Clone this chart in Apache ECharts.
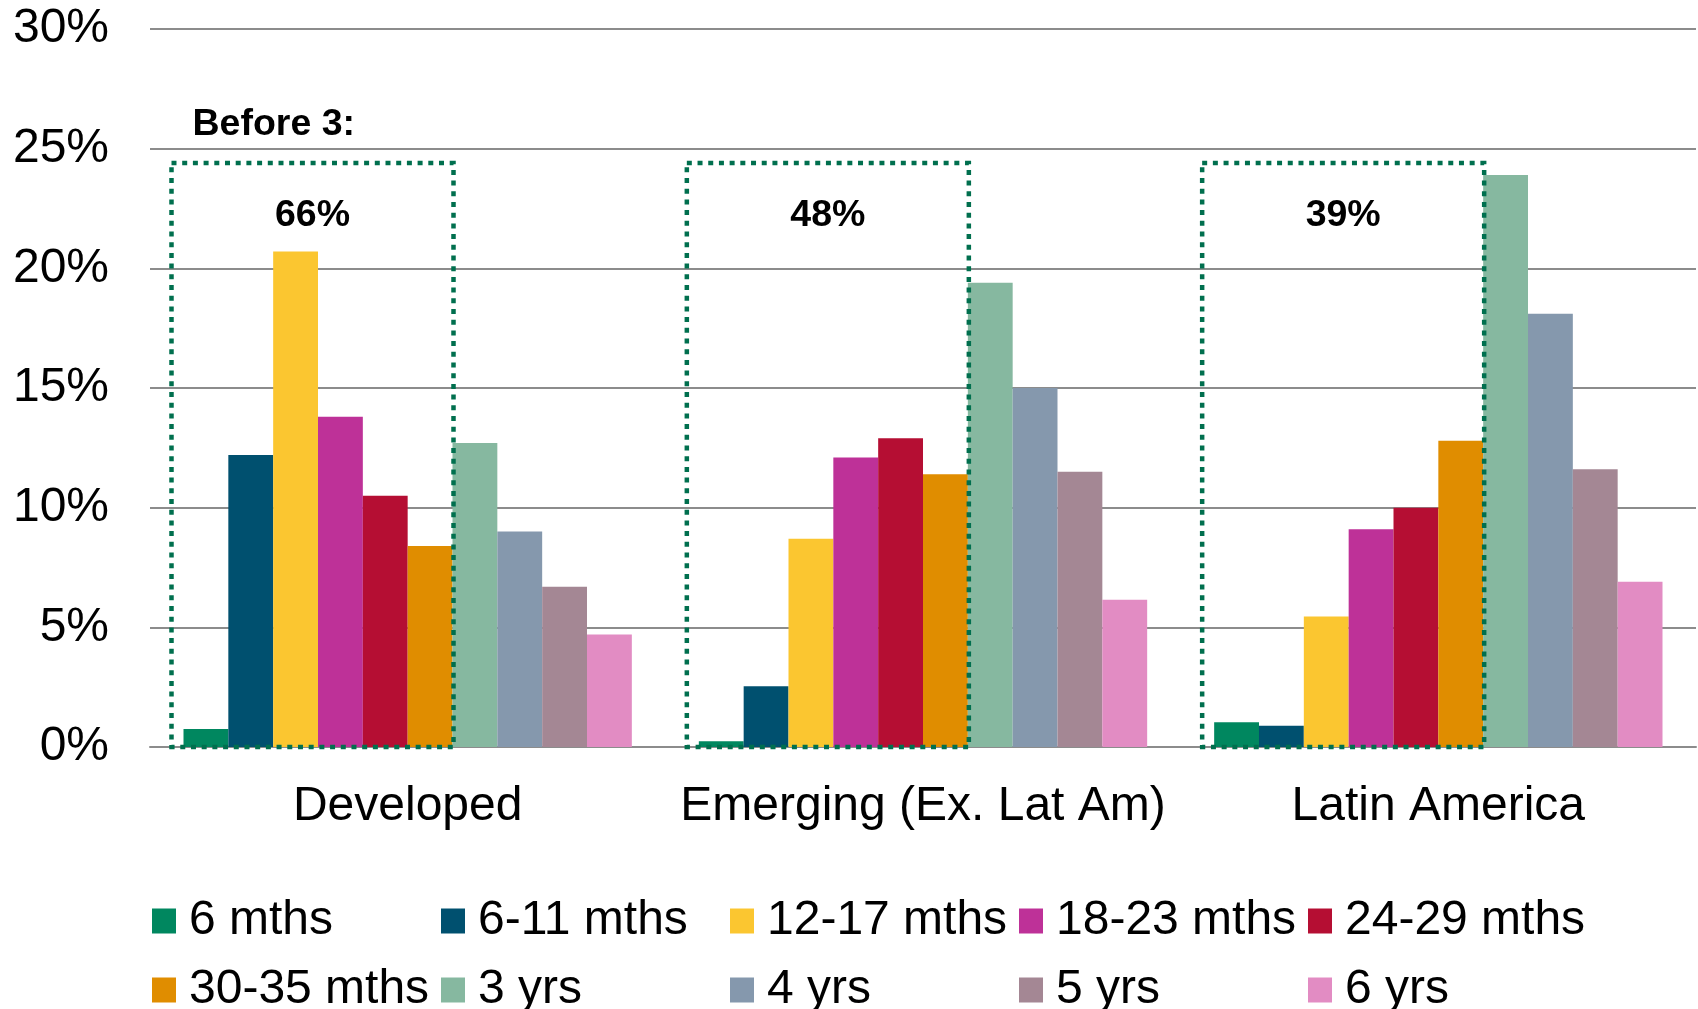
<!DOCTYPE html>
<html>
<head>
<meta charset="utf-8">
<script src="https://cdn.jsdelivr.net/npm/echarts@6/dist/echarts.min.js"></script>
<style>
  html, body { margin: 0; padding: 0; background: #fff; }
  #chart { width: 1698px; height: 1009px; }
</style>
</head>
<body>
<div id="chart"></div>
<script>
// Regions on the category axis
const categories = ['Developed', 'Emerging (Ex. Lat Am)', 'Latin America'];

// Age buckets (one bar series each) and their colours
const seriesNames = ['6 mths', '6-11 mths', '12-17 mths', '18-23 mths', '24-29 mths',
                     '30-35 mths', '3 yrs', '4 yrs', '5 yrs', '6 yrs'];
const seriesColors = ['#00875F', '#00506F', '#FBC630', '#BE3198', '#B50E33',
                      '#E08D00', '#86B8A0', '#8598AD', '#A48794', '#E28CC3'];

// Share of total (%) per region: Developed, Emerging, Latin America
const m6     = [0.75, 0.24, 1.03];
const m6_11  = [12.2, 2.54, 0.89];
const m12_17 = [20.7, 8.7, 5.45];
const m18_23 = [13.8, 12.1, 9.1];
const m24_29 = [10.5, 12.9, 10.0];
const m30_35 = [8.4, 11.4, 12.8];
const y3     = [12.7, 19.4, 23.9];
const y4     = [9.0, 15.0, 18.1];
const y5     = [6.7, 11.5, 11.6];
const y6     = [4.7, 6.15, 6.9];
const seriesValues = [m6, m6_11, m12_17, m18_23, m24_29, m30_35, y3, y4, y5, y6];

// Value axis ticks
const yMin = 0, yMax = 30, yStep = 5;

// The "Before 3" bracket covers the first six buckets
const before3Count = 6;
const before3Title = 'Before 3:';
const before3Share = categories.map((c, i) =>
  Math.round(seriesValues.slice(0, before3Count).reduce((s, arr) => s + arr[i], 0)));

const FONT = '"Liberation Sans", Arial, sans-serif';
const BAR_CAT_GAP = 0.13;
const BOX_TOP = 24.4;      // value level of the bracket's top edge
const SHARE_LEVEL = 22.2;  // value level of the share label
const TITLE_LEVEL = 26.0;  // value level of "Before 3:"

const barSeries = seriesNames.map((name, k) => ({
  name: name,
  type: 'bar',
  data: seriesValues[k],
  barGap: 0,
  barCategoryGap: (BAR_CAT_GAP * 100) + '%',
  itemStyle: { color: seriesColors[k] },
  emphasis: { disabled: true },
  z: 2
}));

// Dotted bracket and share label drawn on the same scales as the bars
const bracketSeries = {
  name: 'before3',
  type: 'custom',
  z: 10,
  silent: true,
  data: categories.map((c, i) => [i, BOX_TOP]),
  encode: { x: 0, y: 1 },
  renderItem: function (params, api) {
    const idx = api.value(0);
    const base = api.coord([idx, 0]);
    const band = api.size([1, 0])[0];
    const groupW = band * (1 - BAR_CAT_GAP);
    const barW = groupW / seriesNames.length;
    const groupLeft = base[0] - groupW / 2;
    const left = groupLeft - 12;
    const right = groupLeft + before3Count * barW + 1;
    const top = api.coord([idx, BOX_TOP])[1];
    const bottom = base[1];
    const children = [{
      type: 'rect',
      shape: { x: left, y: top, width: right - left, height: bottom - top },
      style: { fill: null, stroke: '#006F4E', lineWidth: 4.5, lineDash: [5, 5.7] }
    }, {
      type: 'text',
      style: {
        text: before3Share[idx] + '%',
        x: (left + right) / 2,
        y: api.coord([idx, SHARE_LEVEL])[1],
        align: 'center', verticalAlign: 'middle',
        font: 'bold 37.5px ' + FONT, fill: '#000'
      }
    }];
    if (idx === 0) {
      children.push({
        type: 'text',
        style: {
          text: before3Title,
          x: left + 21,
          y: api.coord([idx, TITLE_LEVEL])[1],
          align: 'left', verticalAlign: 'middle',
          font: 'bold 37.5px ' + FONT, fill: '#000'
        }
      });
    }
    return { type: 'group', children: children };
  }
};

// Legend grid: five columns, two rows (one legend component per entry)
const legendColumnsX = [152, 441, 730, 1019, 1308];
const legendRowsTop = [897, 966];
const legends = seriesNames.map((name, k) => ({
  left: legendColumnsX[k % 5],
  top: legendRowsTop[Math.floor(k / 5)],
  itemWidth: 24,
  itemHeight: 25,
  padding: 0,
  icon: 'rect',
  selectedMode: false,
  data: [name],
  textStyle: { fontFamily: FONT, fontSize: 48, lineHeight: 40, color: '#000',
               padding: [0, 0, 0, 8] }
}));

const chart = echarts.init(document.getElementById('chart'), null, { renderer: 'canvas' });
chart.setOption({
  animation: false,
  backgroundColor: '#fff',
  grid: { left: 150, right: 2, top: 29, bottom: 262, containLabel: false },
  legend: legends,
  xAxis: {
    type: 'category',
    data: categories,
    axisTick: { show: false },
    axisLine: { show: true, lineStyle: { color: '#8c8c8c', width: 2 } },
    axisLabel: { fontFamily: FONT, fontSize: 48, color: '#000', margin: 36, interval: 0 }
  },
  yAxis: {
    type: 'value',
    min: yMin, max: yMax, interval: yStep,
    axisLine: { show: false },
    axisTick: { show: false },
    splitLine: { lineStyle: { color: '#8c8c8c', width: 2 } },
    axisLabel: { fontFamily: FONT, fontSize: 48, color: '#000', margin: 41,
                 formatter: '{value}%' }
  },
  series: barSeries.concat([bracketSeries])
});
</script>
</body>
</html>
